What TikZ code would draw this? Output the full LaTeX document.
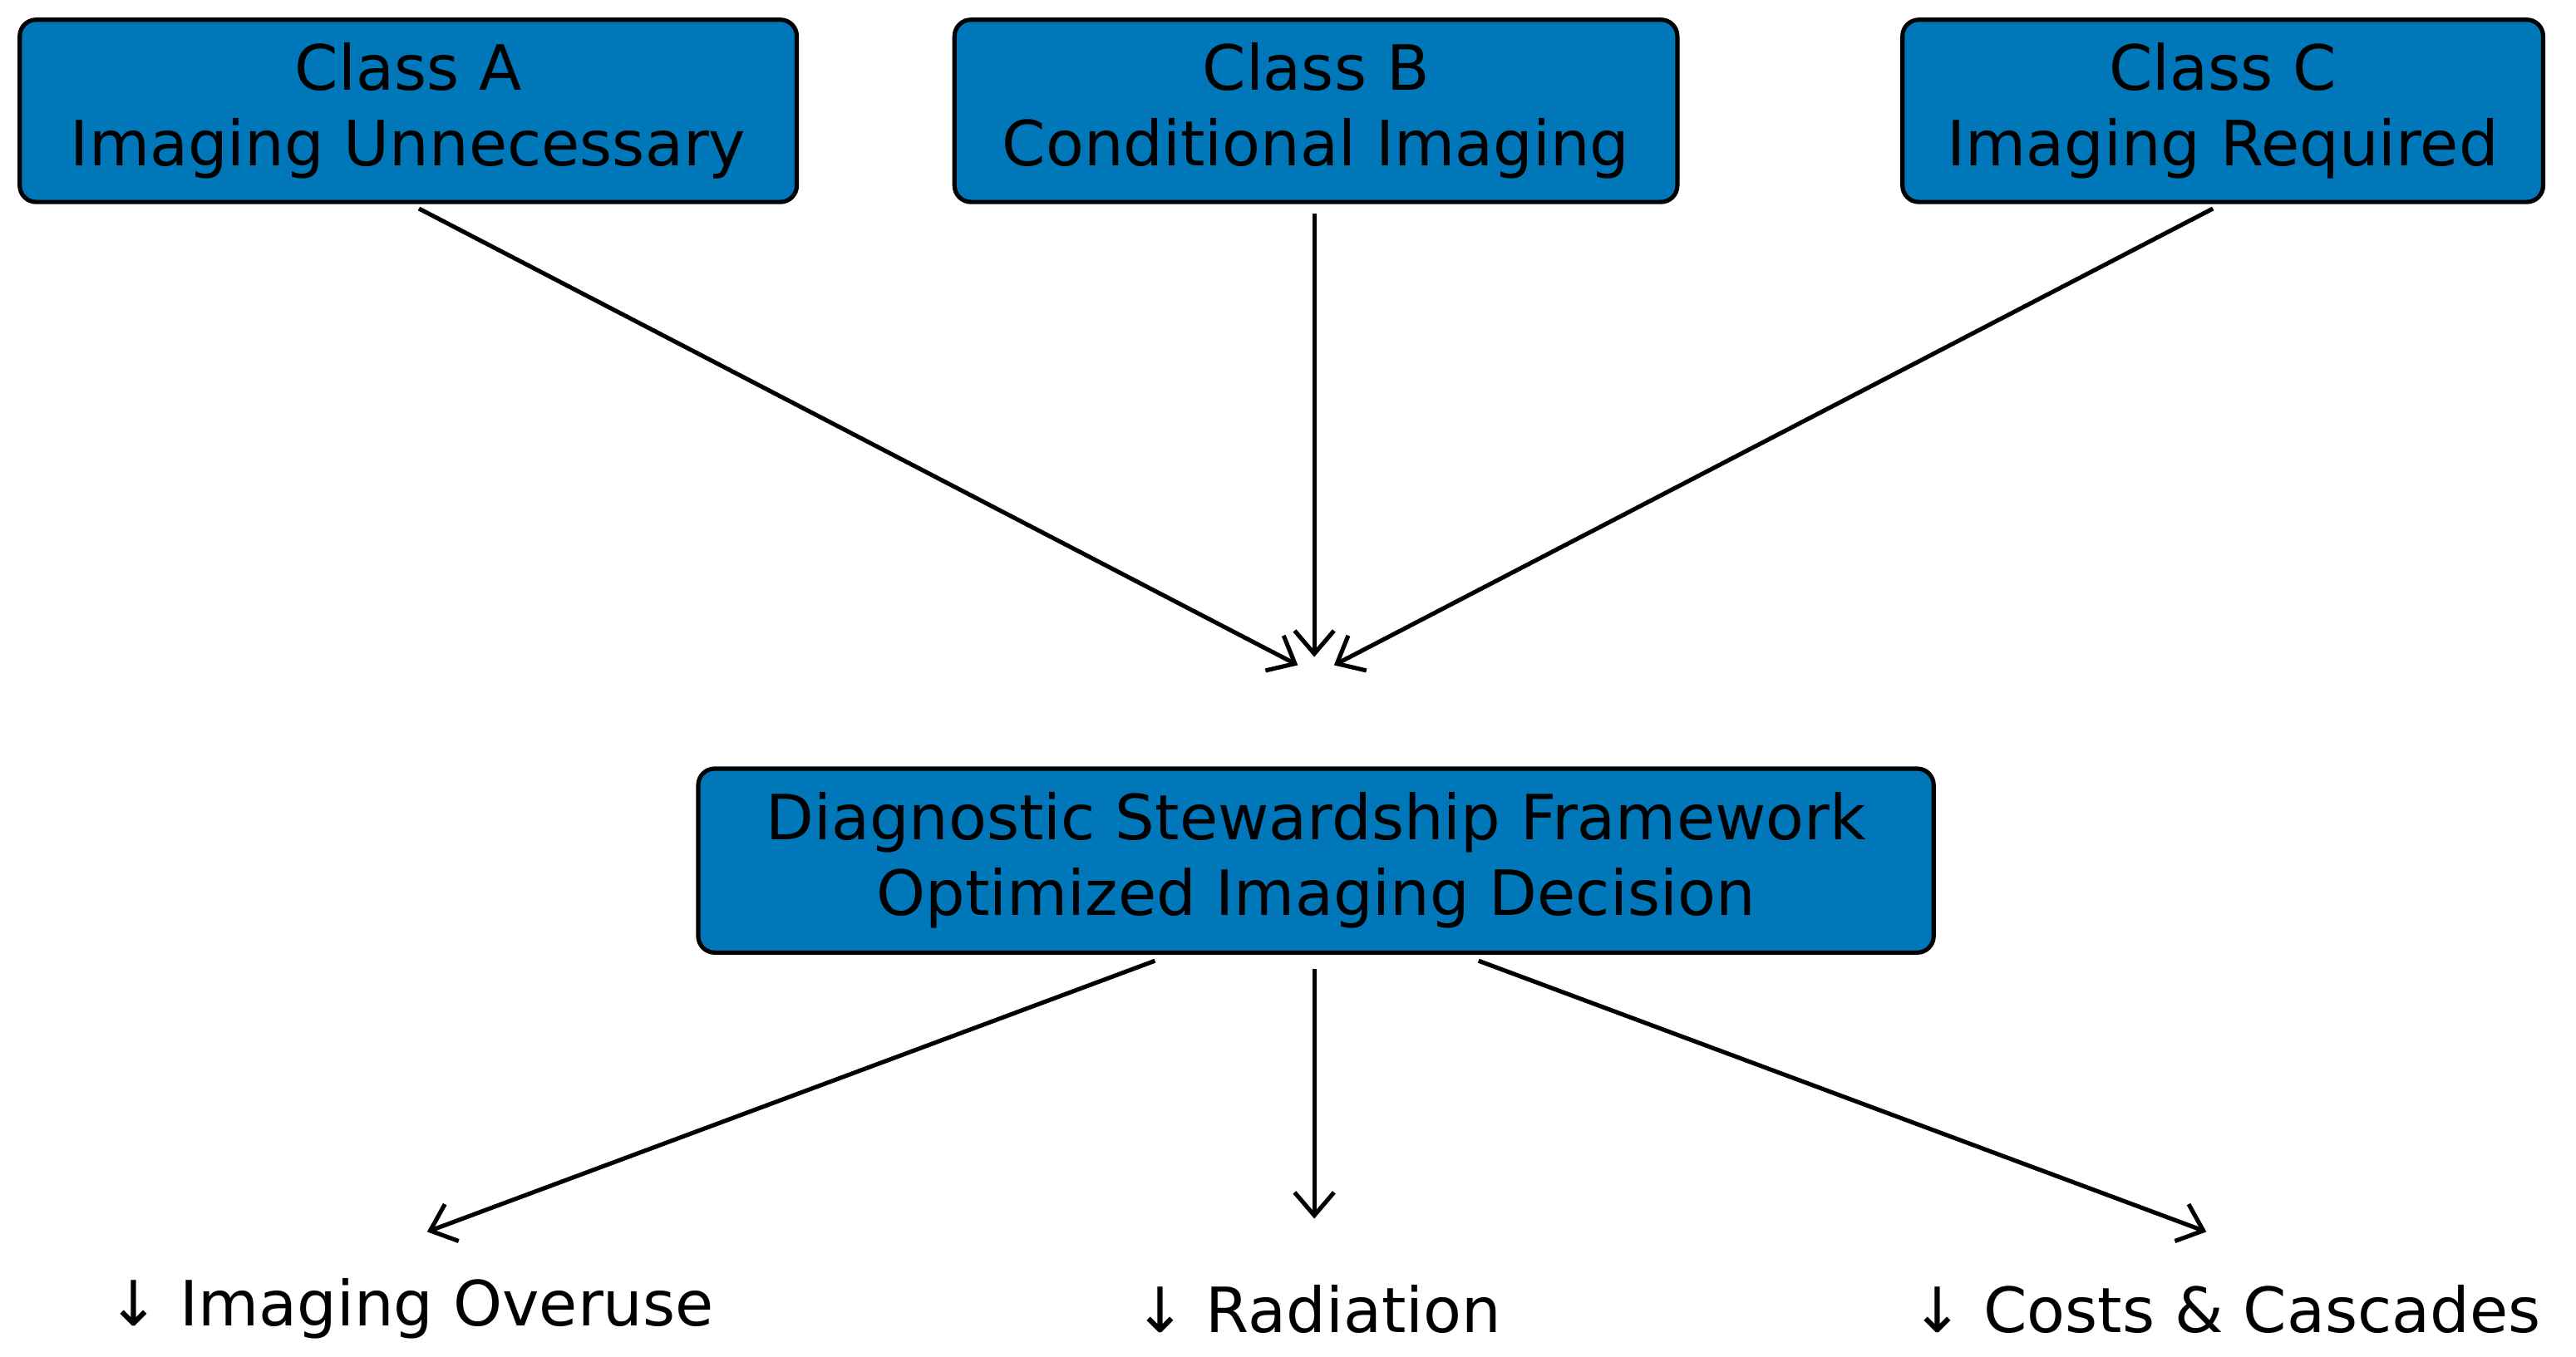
\documentclass[tikz,border=0pt]{standalone}
\usepackage{fontspec}
\setmainfont{DejaVu Sans}
\usetikzlibrary{arrows.meta}
\begin{document}
\begin{tikzpicture}[x=0.5pt,y=-0.5pt,
  box/.style={draw=black,line width=1.3pt,rounded corners=5pt,fill=boxblue,inner sep=0pt,align=center,font=\fontsize{19}{23}\selectfont},
  arr/.style={line width=1.3pt,-{Straight Barb[length=7pt,width=12pt,line width=1.3pt]}},
  lab/.style={font=\fontsize{19}{23}\selectfont}]
\definecolor{boxblue}{RGB}{0,119,184}
\useasboundingbox (0,0) rectangle (1568,826);
\node[box,minimum width=236.5pt,minimum height=55.5pt] (A) at (248.5,67.5) {Class A\\Imaging Unnecessary};
\node[box,minimum width=220pt,minimum height=55.5pt] (B) at (801,67.5) {Class B\\Conditional Imaging};
\node[box,minimum width=195pt,minimum height=55.5pt] (C) at (1353,67.5) {Class C\\Imaging Required};
\node[box,minimum width=376pt,minimum height=56pt] (D) at (801,524) {Diagnostic Stewardship Framework\\Optimized Imaging Decision};
\coordinate (a1) at (255,127); \coordinate (a2) at (790,405);
\coordinate (b1) at (800,130); \coordinate (b2) at (800,400);
\coordinate (c1) at (1347,127); \coordinate (c2) at (812,405);
\coordinate (d1) at (703,585); \coordinate (d2) at (260,750);
\coordinate (e1) at (800,590); \coordinate (e2) at (800,742);
\coordinate (f1) at (900,585); \coordinate (f2) at (1343,750);
\draw[arr] (a1) -- (a2);
\draw[arr] (b1) -- (b2);
\draw[arr] (c1) -- (c2);
\draw[arr] (d1) -- (d2);
\draw[arr] (e1) -- (e2);
\draw[arr] (f1) -- (f2);
\node[lab] (o1) at (250,797) {↓ Imaging Overuse};
\node[lab] (o2) at (802,797) {↓ Radiation};
\node[lab] (o3) at (1355,797) {↓ Costs \& Cascades};
\end{tikzpicture}
\end{document}
